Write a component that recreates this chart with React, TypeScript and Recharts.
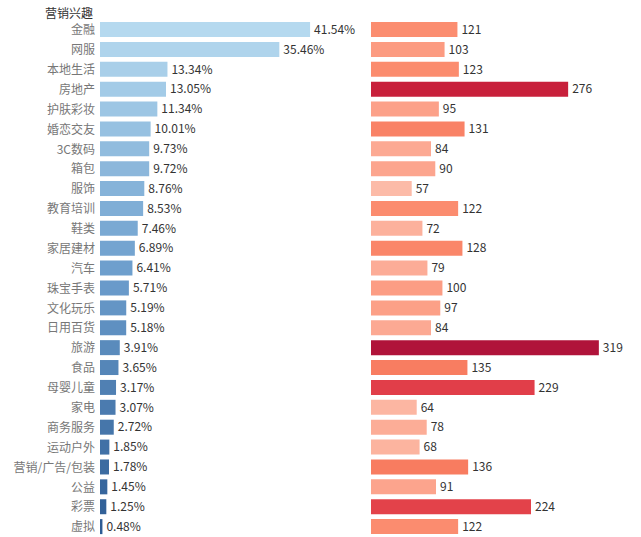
import { BarChart, Bar, XAxis, YAxis, Cell, LabelList } from "recharts"

const categories = [
  "金融", "网服", "本地生活", "房地产", "护肤彩妆", "婚恋交友", "3C数码", "箱包", "服饰",
  "教育培训", "鞋类", "家居建材", "汽车", "珠宝手表", "文化玩乐", "日用百货", "旅游", "食品",
  "母婴儿童", "家电", "商务服务", "运动户外", "营销/广告/包装", "公益", "彩票", "虚拟",
]
const shares = [
  41.54, 35.46, 13.34, 13.05, 11.34, 10.01, 9.73, 9.72, 8.76, 8.53, 7.46, 6.89, 6.41,
  5.71, 5.19, 5.18, 3.91, 3.65, 3.17, 3.07, 2.72, 1.85, 1.78, 1.45, 1.25, 0.48,
]
const indexes = [
  121, 103, 123, 276, 95, 131, 84, 90, 57, 122, 72, 128, 79, 100, 97, 84, 319, 135,
  229, 64, 78, 68, 136, 91, 224, 122,
]

const rows = categories.map((name, i) => ({ name, share: shares[i], index: indexes[i] }))

const font = "'Noto Sans CJK SC', 'Noto Sans', sans-serif"

const hex = (c: string) => [1, 3, 5].map(i => parseInt(c.slice(i, i + 2), 16))
const mix = (a: string, b: string, t: number) => {
  const x = hex(a), y = hex(b)
  return "rgb(" + x.map((v, i) => Math.round(v + (y[i] - v) * t)).join(",") + ")"
}

// blue gets darker down the list
const blueFor = (i: number) => {
  const t = i / (categories.length - 1)
  return t < 0.5 ? mix("#b5d9ef", "#6b9dcc", t * 2) : mix("#6b9dcc", "#2d5c94", (t - 0.5) * 2)
}

// red depends on the index value
const redStops: [number, string][] = [
  [57, "#fcbba8"], [90, "#fca58e"], [125, "#fb8a6c"], [140, "#f7775c"],
  [225, "#e3414a"], [276, "#c8203b"], [319, "#b0133a"],
]
const redFor = (v: number) => {
  for (let k = 1; k < redStops.length; k++) {
    const [v1, c1] = redStops[k]
    const [v0, c0] = redStops[k - 1]
    if (v <= v1) return mix(c0, c1, Math.max(0, (v - v0) / (v1 - v0)))
  }
  return redStops[redStops.length - 1][1]
}

export default function App() {
  return (
    <div style={{ position: "absolute", left: 0, top: 0, width: 641, height: 537, background: "#fff", fontFamily: font }}>
      <div style={{ position: "absolute", left: 45, top: 4, fontSize: 12, color: "#333" }}>营销兴趣</div>
      <div style={{ position: "absolute", left: 0, top: 0 }}>
        <BarChart layout="vertical" width={365} height={537} data={rows}
          margin={{ top: 20, right: 0, bottom: 0, left: 0 }} barSize={15}>
          <XAxis type="number" hide domain={[0, 52.4]} />
          <YAxis type="category" dataKey="name" width={100} tickLine={false} axisLine={false}
            tickSize={0} tickMargin={5} interval={0} tick={{ fontSize: 12, fill: "#777", fontFamily: font }} />
          <Bar dataKey="share" isAnimationActive={false}>
            {rows.map((r, i) => <Cell key={r.name} fill={blueFor(i)} />)}
            <LabelList dataKey="share" position="right" offset={4}
              formatter={(v: any) => Number(v).toFixed(2) + "%"}
              style={{ fontSize: 12, fill: "#333", fontFamily: font }} />
          </Bar>
        </BarChart>
      </div>
      <div style={{ position: "absolute", left: 365, top: 0 }}>
        <BarChart layout="vertical" width={276} height={537} data={rows}
          margin={{ top: 20, right: 0, bottom: 0, left: 6 }} barSize={15}>
          <XAxis type="number" hide domain={[0, 378]} />
          <YAxis type="category" dataKey="name" hide />
          <Bar dataKey="index" isAnimationActive={false}>
            {rows.map(r => <Cell key={r.name} fill={redFor(r.index)} />)}
            <LabelList dataKey="index" position="right" offset={4}
              style={{ fontSize: 12, fill: "#333", fontFamily: font }} />
          </Bar>
        </BarChart>
      </div>
    </div>
  )
}
